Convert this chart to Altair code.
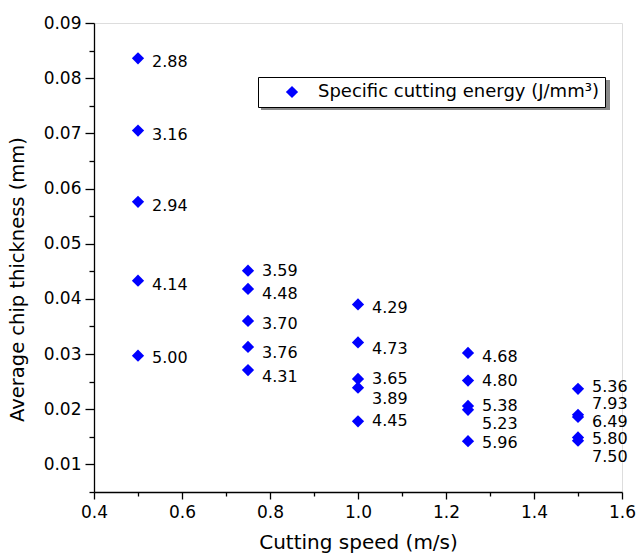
import altair as alt
import pandas as pd

# ---- data ----
speed = [0.5, 0.5, 0.5, 0.5, 0.5,
         0.75, 0.75, 0.75, 0.75, 0.75,
         1.0, 1.0, 1.0, 1.0, 1.0,
         1.25, 1.25, 1.25, 1.25, 1.25,
         1.5, 1.5, 1.5, 1.5, 1.5]
thickness = [0.0836, 0.0705, 0.0576, 0.0433, 0.0297,
             0.0451, 0.0418, 0.0360, 0.0313, 0.0271,
             0.0390, 0.0321, 0.0255, 0.0239, 0.0178,
             0.0302, 0.0252, 0.0206, 0.0199, 0.0142,
             0.0237, 0.0190, 0.0186, 0.0149, 0.0143]
energy = ["2.88", "3.16", "2.94", "4.14", "5.00",
          "3.59", "4.48", "3.70", "3.76", "4.31",
          "4.29", "4.73", "3.65", "3.89", "4.45",
          "4.68", "4.80", "5.38", "5.23", "5.96",
          "5.36", "7.93", "6.49", "5.80", "7.50"]
# vertical placement of each annotation (data units)
label_y = [0.0829, 0.0697, 0.0568, 0.0426, 0.0292,
           0.0451, 0.0409, 0.0355, 0.0302, 0.0259,
           0.0384, 0.0310, 0.0255, 0.0218, 0.0178,
           0.0294, 0.0252, 0.0205, 0.0173, 0.0138,
           0.0241, 0.0209, 0.0177, 0.0146, 0.0114]
series_name = "Specific cutting energy (J/mm³)"

x_major = [0.4, 0.6, 0.8, 1.0, 1.2, 1.4, 1.6]
x_minor = [0.5, 0.7, 0.9, 1.1, 1.3, 1.5]
y_major = [0.01, 0.02, 0.03, 0.04, 0.05, 0.06, 0.07, 0.08, 0.09]
y_minor = [0.005, 0.015, 0.025, 0.035, 0.045, 0.055, 0.065, 0.075, 0.085]

df = pd.DataFrame({
    "speed": speed,
    "thickness": thickness,
    "energy": energy,
    "label_y": label_y,
    "series": [series_name] * len(speed),
})

FONT = "DejaVu Sans"
xscale = alt.Scale(domain=[0.4, 1.6], nice=False, zero=False)
yscale = alt.Scale(domain=[0.005, 0.09], nice=False, zero=False)

common_axis = dict(domainColor="black", tickColor="black", labelColor="black",
                   titleColor="black", labelFont=FONT, titleFont=FONT,
                   domainWidth=1.3, tickWidth=1.3, grid=False)

# drop shadow behind the legend box
shadow = alt.Chart(pd.DataFrame({"a": [0]})).mark_rect(color="#8a8a8a").encode(
    x=alt.value(167), x2=alt.value(516), y=alt.value(57), y2=alt.value(87)
)

points = alt.Chart(df).mark_point(shape="diamond", filled=True, size=150, opacity=1).encode(
    x=alt.X("speed:Q", scale=xscale,
            axis=alt.Axis(values=x_major, format=".1f", tickSize=7, labelPadding=5,
                          labelFontSize=17, title="Cutting speed (m/s)", titleFontSize=20,
                          titleFontWeight="normal", titleBaseline="alphabetic", titleY=56,
                          labelFlush=False, **common_axis)),
    y=alt.Y("thickness:Q", scale=yscale,
            axis=alt.Axis(values=y_major, format=".2f", tickSize=9, labelPadding=4,
                          labelFontSize=17, title="Average chip thickness (mm)",
                          titleFontSize=19.5, titleFontWeight="normal", titleAngle=-90,
                          titleAlign="center", titleBaseline="alphabetic",
                          titleX=-71, titleY=256, labelFlush=False, **common_axis)),
    color=alt.Color("series:N", scale=alt.Scale(range=["#0000ff"]),
                    legend=alt.Legend(title=None, orient="none", legendX=164, legendY=54,
                                      strokeColor="black", fillColor="white", padding=6,
                                      symbolType="diamond", symbolSize=150,
                                      symbolStrokeWidth=0, symbolOffset=19, labelOffset=17,
                                      labelFont=FONT, labelFontSize=18, labelColor="black",
                                      labelLimit=500)),
)

labels = alt.Chart(df).mark_text(align="left", baseline="middle", dx=14, fontSize=16,
                                 font=FONT, color="black").encode(
    x=alt.X("speed:Q", scale=xscale, axis=None),
    y=alt.Y("label_y:Q", scale=yscale, axis=None),
    text="energy:N",
)

minor = alt.Chart(df).mark_point(opacity=0).encode(
    x=alt.X("speed:Q", scale=xscale,
            axis=alt.Axis(values=x_minor, labels=False, tickSize=4, domain=False,
                          title=None, orient="bottom", tickColor="black", tickWidth=1.3,
                          grid=False)),
    y=alt.Y("thickness:Q", scale=yscale,
            axis=alt.Axis(values=y_minor, labels=False, tickSize=5, domain=False,
                          title=None, orient="left", tickColor="black", tickWidth=1.3,
                          grid=False)),
)

chart = alt.layer(shadow, points, labels, minor).resolve_axis(
    x="independent", y="independent"
).properties(
    width=528, height=469,
    autosize=alt.AutoSizeParams(type="none"),
    padding={"left": 94, "top": 23, "right": 14, "bottom": 61},
).configure_view(stroke=None).configure(background="white")

chart.save("out.html", embed_options={"renderer": "svg", "actions": False})
